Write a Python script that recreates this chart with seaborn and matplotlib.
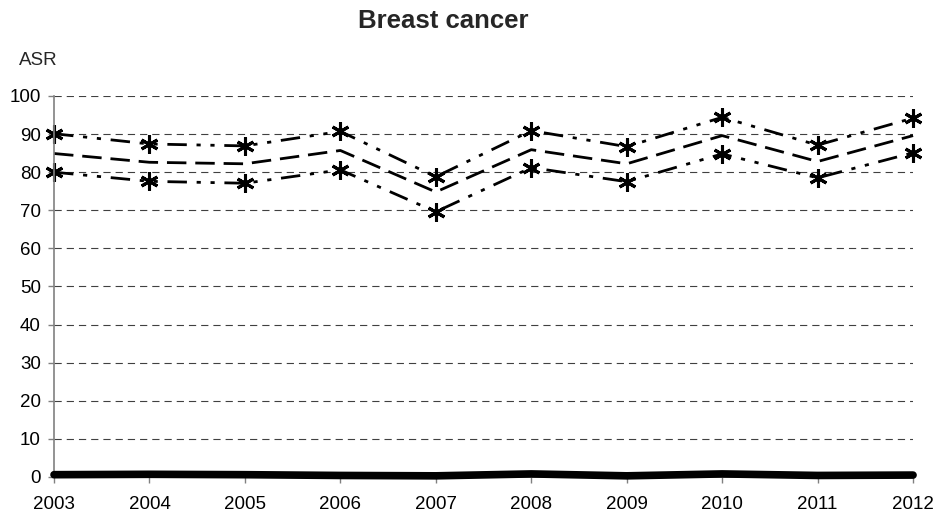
import matplotlib
matplotlib.use("Agg")
import matplotlib.pyplot as plt
import seaborn as sns

# data
years = [2003, 2004, 2005, 2006, 2007, 2008, 2009, 2010, 2011, 2012]
upper_ci = [90.1, 87.4, 86.9, 90.7, 78.8, 90.9, 86.7, 94.4, 87.1, 94.2]
asr = [84.9, 82.6, 82.2, 85.7, 74.8, 85.9, 82.2, 89.6, 82.8, 89.6]
lower_ci = [80.0, 77.6, 77.1, 80.6, 69.6, 81.2, 77.5, 84.8, 78.5, 85.1]
baseline = [0.6, 0.7, 0.6, 0.4, 0.3, 0.8, 0.3, 0.8, 0.4, 0.5]

sns.set_style("white")
plt.rcParams['font.family'] = ['Liberation Sans', 'DejaVu Sans']

fig = plt.figure(figsize=(9.38, 5.18), dpi=100)
ax = fig.add_axes([0.0576, 0.0792, 0.9158, 0.7355])

star = (6, 2, 0)
dashdotdot = (7, 3.5, 1.5, 3.5, 1.5, 3.5)

sns.lineplot(x=years, y=upper_ci, ax=ax, color='black', linewidth=2,
             marker=star, markersize=13, markeredgewidth=2.2,
             markeredgecolor='black', clip_on=False)
ax.lines[-1].set_dashes(dashdotdot)
sns.lineplot(x=years, y=asr, ax=ax, color='black', linewidth=2, clip_on=False)
ax.lines[-1].set_dashes((7, 3.2))
sns.lineplot(x=years, y=lower_ci, ax=ax, color='black', linewidth=2,
             marker=star, markersize=13, markeredgewidth=2.2,
             markeredgecolor='black', clip_on=False)
ax.lines[-1].set_dashes(dashdotdot)
sns.lineplot(x=years, y=baseline, ax=ax, color='black', linewidth=5.5,
             solid_capstyle='round', clip_on=False, zorder=5)

ax.set_xlim(2003, 2012)
ax.set_ylim(0, 100)
ax.set_xticks(years)
ax.set_xticklabels([str(y) for y in years])
ax.set_yticks(range(0, 101, 10))

ax.yaxis.grid(True, linestyle=(0, (6.5, 4.5)), color='#404040', linewidth=0.8)
ax.xaxis.grid(False)
for s in ['top', 'right']:
    ax.spines[s].set_visible(False)
for s in ['left', 'bottom']:
    ax.spines[s].set_color('#808080')
    ax.spines[s].set_linewidth(1.2)

ax.tick_params(axis='both', labelsize=13.5, colors='black', length=4.5,
               direction='out', width=1)
ax.tick_params(axis='both', color='#808080')
ax.tick_params(axis='y', left=True, pad=5)
ax.tick_params(axis='x', bottom=True, pad=9)

ax.set_xlabel('')
ax.set_ylabel('')
fig.text(0.0203, 0.884, 'ASR', fontsize=13.5, ha='left', va='center')
fig.text(0.473, 0.959, 'Breast cancer', fontsize=18.5, fontweight='bold',
         ha='center', va='center')

fig.savefig('out.png', dpi=100)
